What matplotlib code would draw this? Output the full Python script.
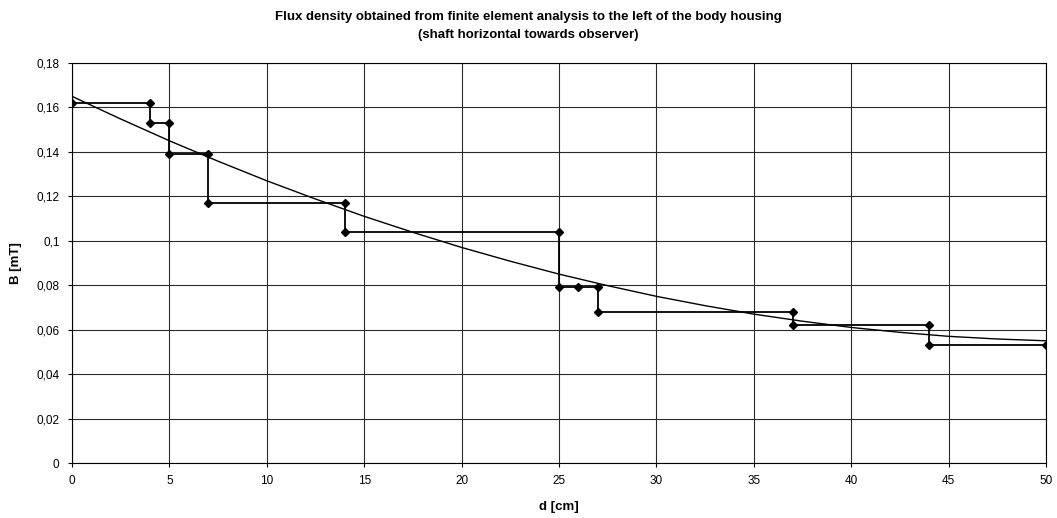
import numpy as np
import matplotlib
matplotlib.use('Agg')
import matplotlib.pyplot as plt
from matplotlib.ticker import FuncFormatter, MultipleLocator

plt.rcParams['font.family'] = ['Liberation Sans', 'DejaVu Sans']

# step data (FE results)
d_step = [0, 4, 4, 5, 5, 7, 7, 14, 14, 25, 25, 26, 27, 27, 37, 37, 44, 44, 50]
b_step = [0.162, 0.162, 0.153, 0.153, 0.139, 0.139, 0.117, 0.117, 0.104, 0.104,
          0.079, 0.079, 0.079, 0.068, 0.068, 0.062, 0.062, 0.053, 0.053]

# trend line
d_trend = [0, 2.5, 5, 7.5, 10, 12.5, 15, 17.5, 20, 22.5, 25, 27.5, 30,
           32.5, 35, 37.5, 40, 42.5, 45, 47.5, 50]
b_trend = [0.165, 0.1548, 0.145, 0.1358, 0.127, 0.1188, 0.111, 0.1038, 0.097,
           0.0908, 0.085, 0.0798, 0.075, 0.0708, 0.067, 0.0638, 0.061, 0.0588,
           0.057, 0.0558, 0.055]

title = ('Flux density obtained from finite element analysis to the left of the body housing\n'
         '(shaft horizontal towards observer)')


def comma_fmt(v, pos):
    return ('%g' % round(v, 4)).replace('.', ',')


def main():
    fig = plt.figure(figsize=(10.57, 5.18), dpi=100)
    ax = fig.add_axes([72 / 1057, 1 - 463 / 518, (1046 - 72) / 1057, (463 - 63) / 518])

    ax.plot(d_trend, b_trend, color='black', lw=1.0)
    ax.plot(d_step, b_step, color='black', lw=1.3, marker='D', markersize=4.5)

    ax.set_xlim(0, 50)
    ax.set_ylim(0, 0.18)
    ax.xaxis.set_major_locator(MultipleLocator(5))
    ax.yaxis.set_major_locator(MultipleLocator(0.02))
    ax.yaxis.set_major_formatter(FuncFormatter(comma_fmt))
    ax.grid(True, color='#2a2a2a', lw=0.8)
    for s in ax.spines.values():
        s.set_color('black')
        s.set_linewidth(0.8)
    ax.tick_params(labelsize=8.5, length=3, pad=6)

    ax.set_xlabel('d [cm]', fontsize=9.5, fontweight='bold', labelpad=10)
    ax.set_ylabel('B [mT]', fontsize=9.5, fontweight='bold', labelpad=10)
    fig.suptitle(title, fontsize=9.5, fontweight='bold', y=0.978, linespacing=1.6)

    fig.savefig('out.png', dpi=100)


if __name__ == '__main__':
    main()
